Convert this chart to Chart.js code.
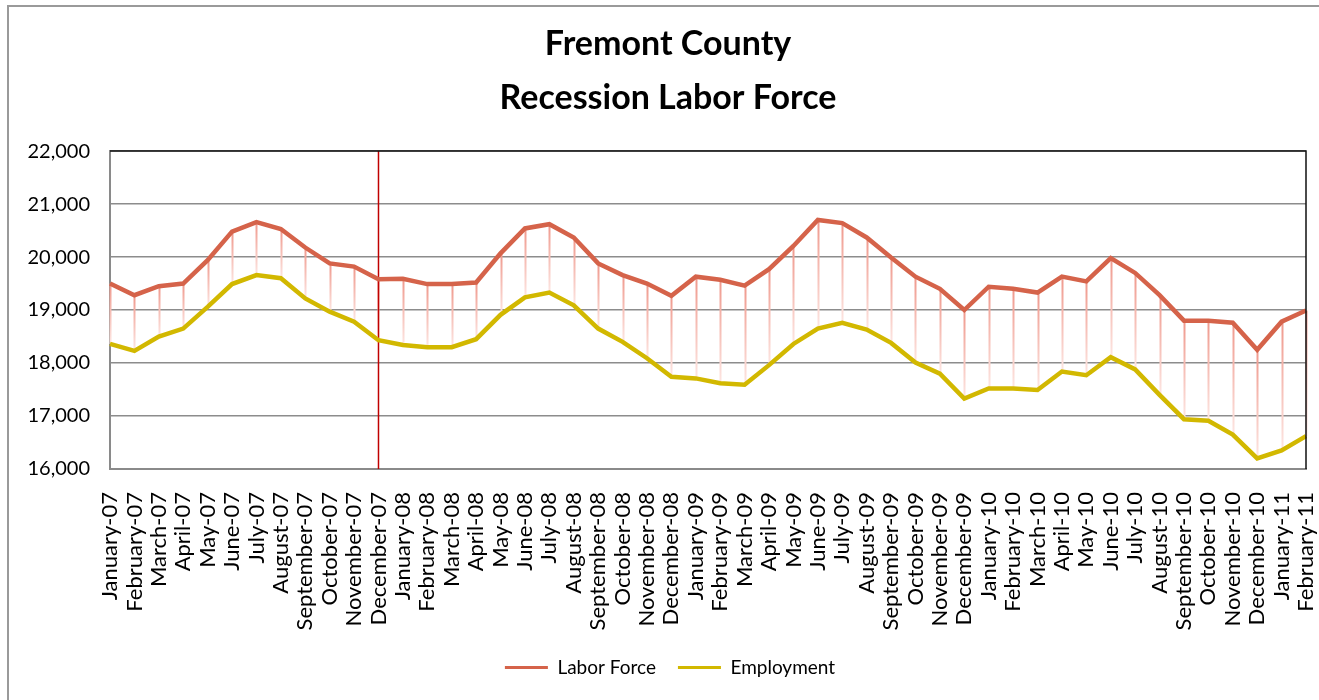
<!DOCTYPE html>
<html><head><meta charset="utf-8">
<script src="https://cdn.jsdelivr.net/npm/chart.js@4/dist/chart.umd.min.js"></script>
<style>
html,body{margin:0;padding:0;background:#fff;overflow:hidden}
#wrap{position:relative;width:1319px;height:700px}
#frame{position:absolute;left:7px;top:5px;width:1340px;height:740px;border:2px solid #9a9a9a;box-sizing:border-box;pointer-events:none}
</style></head><body>
<div id="wrap"><canvas id="c" width="1319" height="700"></canvas><div id="frame"></div></div>
<script>
const months = ['January-07','February-07','March-07','April-07','May-07','June-07','July-07','August-07','September-07','October-07','November-07','December-07',
'January-08','February-08','March-08','April-08','May-08','June-08','July-08','August-08','September-08','October-08','November-08','December-08',
'January-09','February-09','March-09','April-09','May-09','June-09','July-09','August-09','September-09','October-09','November-09','December-09',
'January-10','February-10','March-10','April-10','May-10','June-10','July-10','August-10','September-10','October-10','November-10','December-10',
'January-11','February-11'];
const laborForce = [19500,19280,19450,19500,19940,20480,20660,20530,20180,19880,19820,19580,
19590,19490,19490,19520,20070,20540,20620,20370,19880,19660,19500,19270,
19630,19570,19460,19770,20210,20700,20640,20370,19990,19630,19400,19000,
19440,19400,19330,19630,19540,19980,19700,19280,18800,18800,18760,18250,
18780,18990];
const employment = [18360,18230,18500,18650,19060,19490,19660,19600,19220,18970,18780,18430,
18340,18300,18300,18450,18910,19240,19330,19090,18650,18400,18090,17740,
17710,17620,17590,17960,18360,18650,18760,18630,18380,18010,17800,17330,
17520,17520,17490,17840,17770,18110,17880,17400,16940,16910,16650,16200,
16350,16620];
const yTicks = [16000,17000,18000,19000,20000,21000,22000];
const recessionStart = 'December-07';
const titleLines = ['Fremont County','Recession Labor Force'];
const seriesNames = ['Labor Force','Employment'];

const LF_COLOR = '#d5634a';
const EMP_COLOR = '#d2b800';
const FONT = 'Lato, "Open Sans", sans-serif';

const extras = {
  id: 'extras',
  afterLayout(chart) {
    const l = chart.legend;
    if (l) { l.left += 34; }
    const t = chart.titleBlock;
    if (t) { t.left += 30; }
  },
  beforeDatasetsDraw(chart) {
    const {ctx, chartArea: a, scales: {x, y}} = chart;
    ctx.save();
    for (let i = 0; i < months.length; i++) {
      const px = Math.round(x.getPixelForValue(i)) + 0.5;
      const y1 = y.getPixelForValue(laborForce[i]);
      const y2 = y.getPixelForValue(employment[i]);
      const g = ctx.createLinearGradient(0, y1, 0, y2);
      g.addColorStop(0, '#ef998d');
      g.addColorStop(1, '#fde6e2');
      ctx.strokeStyle = g;
      ctx.lineWidth = 2;
      ctx.beginPath(); ctx.moveTo(px, y1); ctx.lineTo(px, y2); ctx.stroke();
    }
    const rx = x.getPixelForValue(months.indexOf(recessionStart));
    ctx.strokeStyle = '#c00000';
    ctx.lineWidth = 1.5;
    ctx.beginPath(); ctx.moveTo(rx, a.top); ctx.lineTo(rx, a.bottom); ctx.stroke();
    ctx.restore();
  },
  afterDraw(chart) {
    const {ctx, chartArea: a} = chart;
    ctx.save();
    ctx.strokeStyle = '#111';
    ctx.lineWidth = 1.5;
    ctx.beginPath();
    ctx.moveTo(a.left, a.top); ctx.lineTo(a.right, a.top); ctx.lineTo(a.right, a.bottom);
    ctx.stroke();
    ctx.restore();
  }
};

new Chart(document.getElementById('c'), {
  type: 'line',
  data: {
    labels: months,
    datasets: [
      {label: seriesNames[0], data: laborForce, borderColor: LF_COLOR, backgroundColor: LF_COLOR, borderWidth: 4.5, pointRadius: 0, tension: 0},
      {label: seriesNames[1], data: employment, borderColor: EMP_COLOR, backgroundColor: EMP_COLOR, borderWidth: 4.5, pointRadius: 0, tension: 0}
    ]
  },
  options: {
    responsive: false,
    devicePixelRatio: 1,
    animation: false,
    layout: {padding: {left: 0, right: 13, top: 0, bottom: 13}},
    plugins: {
      title: {
        display: true,
        text: titleLines,
        color: '#000',
        font: {family: FONT, size: 34, weight: 'bold', lineHeight: 1.56},
        padding: {top: 18, bottom: 27}
      },
      legend: {
        position: 'bottom',
        labels: {
          color: '#000',
          font: {family: FONT, size: 19},
          boxWidth: 43,
          boxHeight: 3,
          padding: 22,
          generateLabels(chart) {
            return chart.data.datasets.map((d, i) => ({
              text: d.label, fillStyle: d.borderColor, strokeStyle: d.borderColor,
              lineWidth: 0, hidden: false, datasetIndex: i, fontColor: '#000'
            }));
          }
        }
      },
      tooltip: {enabled: false}
    },
    scales: {
      x: {
        grid: {display: false, drawTicks: false},
        border: {display: true, color: '#8a8a8a', width: 2},
        ticks: {
          autoSkip: false, maxRotation: 90, minRotation: 90, padding: 23,
          color: '#000', font: {family: FONT, size: 22}
        },
        afterFit(s) { s.height = 167; s.paddingLeft = 0; s.paddingRight = 0; }
      },
      y: {
        min: 16000, max: 22000,
        afterBuildTicks(s) { s.ticks = yTicks.map(v => ({value: v})); },
        grid: {color: '#8c8c8c', lineWidth: 1.5, drawTicks: false},
        border: {display: true, color: '#8a8a8a', width: 2},
        ticks: {
          padding: 20, color: '#000', font: {family: FONT, size: 20},
          callback: v => v.toLocaleString('en-US')
        },
        afterFit(s) { s.width = 110; }
      }
    }
  },
  plugins: [extras]
});
</script>
</body></html>
